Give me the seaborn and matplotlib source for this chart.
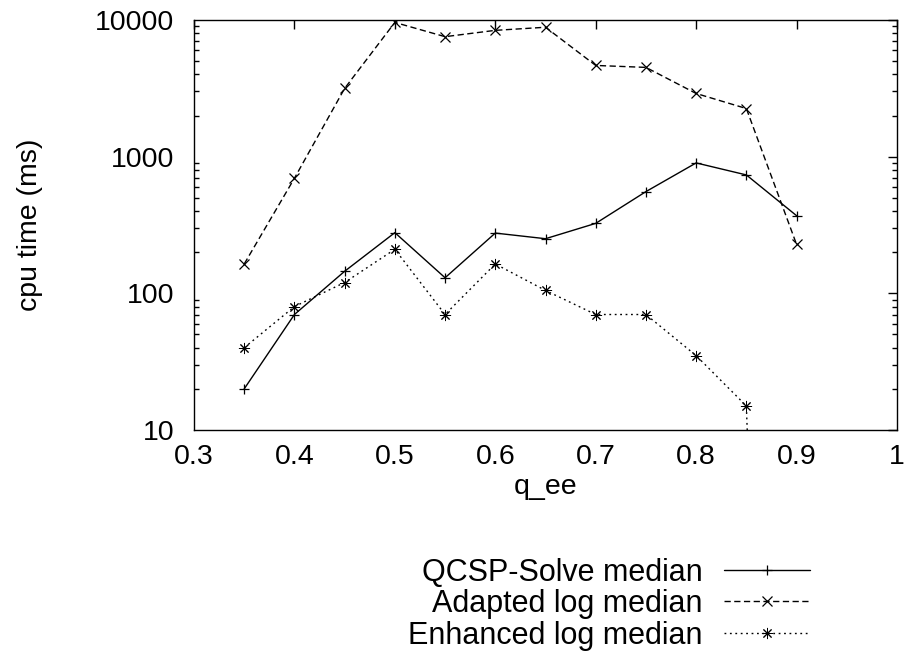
import matplotlib
matplotlib.use("Agg")
import matplotlib.pyplot as plt
import seaborn as sns
import numpy as np
import pandas as pd

# q_ee values on the x axis
q_ee = [0.35, 0.40, 0.45, 0.50, 0.55, 0.60, 0.65, 0.70, 0.75, 0.80, 0.85, 0.90]

# median cpu times (ms)
qcsp_solve = [20, 70, 145, 278, 130, 276, 251, 325, 555, 900, 735, 370]
adapted_log = [164, 695, 3160, 9600, 7550, 8400, 8850, 4650, 4500, 2900, 2250, 228]
enhanced_log = [40, 80, 120, 210, 70, 164, 105, 70, 70, 35, 15, 1e-9]

series_labels = ["QCSP-Solve median", "Adapted log median", "Enhanced log median"]

x_ticks = [0.3, 0.4, 0.5, 0.6, 0.7, 0.8, 0.9, 1.0]
x_tick_labels = ["0.3", "0.4", "0.5", "0.6", "0.7", "0.8", "0.9", "1"]
y_ticks = [10, 100, 1000, 10000]
y_tick_labels = ["10", "100", "1000", "10000"]

FS = 20.5
LEG_FS = 22

sns.set_style("white")
plt.rcParams["font.family"] = ["Liberation Sans", "DejaVu Sans"]
plt.rcParams["font.size"] = FS
plt.rcParams["text.color"] = "black"
plt.rcParams["axes.labelcolor"] = "black"
plt.rcParams["xtick.color"] = "black"
plt.rcParams["ytick.color"] = "black"

fig = plt.figure(figsize=(9.07, 6.57), dpi=100)
W, H = 907, 657
ax = fig.add_axes([194 / W, 1 - 430 / H, (897 - 194) / W, (430 - 20) / H])

df = pd.DataFrame({
    "q_ee": q_ee,
    "qcsp": qcsp_solve,
    "adapted": adapted_log,
    "enhanced": enhanced_log,
})

styles = [
    dict(linestyle="-", marker="+", markersize=7.5, markeredgewidth=0.9),
    dict(linestyle=(0, (4.5, 2.5)), marker="x", markersize=6.5, markeredgewidth=0.9),
    dict(linestyle=(0, (1.3, 2.6)), marker=(8, 2, 0), markersize=8, markeredgewidth=0.7),
]

handles = []
for col, st in zip(["qcsp", "adapted", "enhanced"], styles):
    n_before = len(ax.lines)
    sns.lineplot(data=df, x="q_ee", y=col, ax=ax, color="black", lw=1.0,
                 markeredgecolor="black", markerfacecolor="black",
                 errorbar=None, legend=False, **st)
    handles.append(ax.lines[n_before])

ax.set_yscale("log")
ax.set_xlim(0.3, 1.0)
ax.set_ylim(10, 10000)
ax.set_xticks(x_ticks)
ax.set_xticklabels(x_tick_labels)
ax.set_yticks(y_ticks)
ax.set_yticklabels(y_tick_labels)
ax.yaxis.set_minor_locator(matplotlib.ticker.LogLocator(base=10, subs=np.arange(2, 10)))
ax.yaxis.set_minor_formatter(matplotlib.ticker.NullFormatter())

ax.tick_params(axis="both", which="major", direction="in", length=6.5, width=1.0,
               top=True, right=True, labelsize=FS, color="black")
ax.tick_params(axis="x", which="major", pad=10)
ax.tick_params(axis="y", which="major", pad=14)
ax.tick_params(axis="y", which="minor", direction="in", length=3.3, width=1.0,
               left=True, right=True, color="black")
ax.tick_params(axis="x", which="minor", bottom=False, top=False)

for sp in ax.spines.values():
    sp.set_visible(True)
    sp.set_color("black")
    sp.set_linewidth(1.0)

ax.set_xlabel("q_ee", fontsize=FS)
ax.set_ylabel("cpu time (ms)", fontsize=FS)
ax.yaxis.label.set_verticalalignment("center")
ax.xaxis.label.set_verticalalignment("center")
ax.xaxis.set_label_coords(0.5, (430 - 487) / 410)
ax.yaxis.set_label_coords((30 - 194) / 703, 0.5)

# one legend per row so that the labels line up on their right edge
row_y = [573, 604, 636]
fs_px = LEG_FS * 100 / 72
for h, lab, yy in zip(handles, series_labels, row_y):
    fig.legend([h], [lab], loc="center right",
               bbox_to_anchor=(810 / W, 1 - yy / H),
               bbox_transform=fig.transFigure,
               frameon=False, markerfirst=False, borderpad=0,
               borderaxespad=0, handlelength=86 / fs_px,
               handletextpad=21 / fs_px, fontsize=LEG_FS)

fig.savefig("out.png", dpi=100)
